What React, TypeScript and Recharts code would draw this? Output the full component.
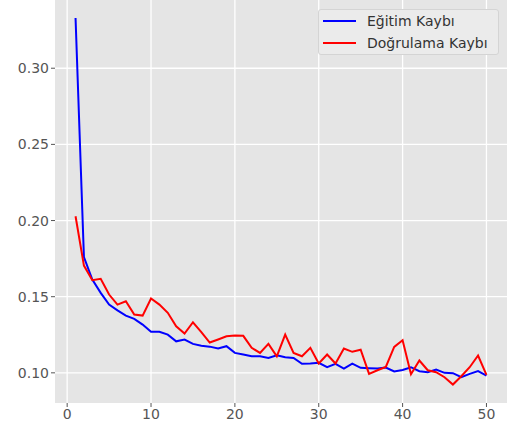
import React from "react";
import {
  LineChart, Line, XAxis, YAxis, CartesianGrid
} from "recharts";

// epochs 1..50
const epochs = Array.from({ length: 50 }, (_, i) => i + 1);

const trainLoss = [
  0.333, 0.176, 0.1612, 0.1525, 0.1448, 0.141, 0.1376, 0.1354, 0.1317, 0.1269,
  0.1269, 0.1251, 0.1207, 0.1218, 0.119, 0.1178, 0.1172, 0.116, 0.1175, 0.1131,
  0.112, 0.1109, 0.1109, 0.1098, 0.1116, 0.1102, 0.1098, 0.1059, 0.1061, 0.1066,
  0.1037, 0.1059, 0.1028, 0.1061, 0.1033, 0.103, 0.1028, 0.1035, 0.1009, 0.1019,
  0.1037, 0.1011, 0.1004, 0.1022, 0.1, 0.0998, 0.0971, 0.0993, 0.1011, 0.0982,
];

const valLoss = [
  0.2028, 0.1704, 0.1608, 0.1617, 0.1514, 0.1448, 0.147, 0.1383, 0.1376, 0.1488,
  0.1448, 0.1394, 0.1306, 0.1258, 0.1332, 0.1268, 0.1199, 0.1219, 0.124, 0.1245,
  0.1243, 0.1164, 0.1131, 0.119, 0.1109, 0.1251, 0.1131, 0.1109, 0.1164, 0.1061,
  0.112, 0.1061, 0.116, 0.1138, 0.1152, 0.0993, 0.1017, 0.1039, 0.117, 0.1214,
  0.0991, 0.1081, 0.1017, 0.1004, 0.0971, 0.0923, 0.0978, 0.1037, 0.1114, 0.0987,
];

const xTicks = [0, 10, 20, 30, 40, 50];
const yTicks = [0.1, 0.15, 0.2, 0.25, 0.3];

const seriesNames = ["Eğitim Kaybı", "Doğrulama Kaybı"];
const seriesColors = ["#0000ff", "#ff0000"];

const data = epochs.map((e, i) => ({
  epoch: e,
  train: trainLoss[i],
  val: valLoss[i],
}));

const font = "'DejaVu Sans', sans-serif";

// legend drawn as html on top of the plot, like matplotlib's upper right box
function LegendBox() {
  return (
    <div
      style={{
        position: "absolute",
        top: 9,
        left: 318,
        width: 169,
        background: "#ebebeb",
        border: "1px solid #d4d4d4",
        borderRadius: 3,
        padding: "0 6px 0 4px",
        fontFamily: font,
        fontSize: 14,
        color: "#333",
        lineHeight: "22px",
      }}
    >
      {seriesNames.map((n, i) => (
        <div key={n} style={{ display: "flex", alignItems: "center" }}>
          <span
            style={{
              display: "inline-block",
              width: 33,
              height: 2,
              background: seriesColors[i],
              marginRight: 11,
            }}
          />
          <span>{n}</span>
        </div>
      ))}
    </div>
  );
}

export default function App() {
  return (
    <div style={{ position: "relative", width: 512, height: 431, background: "#fff" }}>
      <style>{`body{margin:0}`}</style>
      <LineChart
        width={512}
        height={431}
        data={data}
        margin={{ top: 0, right: 5, bottom: 0, left: 0 }}
      >
        <CartesianGrid
          fill="#e5e5e5"
          stroke="#ffffff"
          strokeWidth={1.3}
          horizontalValues={yTicks}
          verticalValues={xTicks}
        />
        <XAxis
          dataKey="epoch"
          type="number"
          domain={[-1.45, 52.45]}
          ticks={xTicks}
          allowDataOverflow
          height={28}
          axisLine={false}
          tickLine={{ stroke: "#555" }}
          tickSize={4}
          tick={{ fill: "#555", fontSize: 14, fontFamily: font }}
        />
        <YAxis
          type="number"
          domain={[0.0802, 0.3448]}
          ticks={yTicks}
          allowDataOverflow
          width={55}
          axisLine={false}
          tickLine={{ stroke: "#555" }}
          tickSize={4}
          tick={{ fill: "#555", fontSize: 14, fontFamily: font }}
          tickFormatter={(v: number) => v.toFixed(2)}
        />
        <Line
          dataKey="train"
          name={seriesNames[0]}
          stroke={seriesColors[0]}
          strokeWidth={2}
          dot={false}
          isAnimationActive={false}
        />
        <Line
          dataKey="val"
          name={seriesNames[1]}
          stroke={seriesColors[1]}
          strokeWidth={2}
          dot={false}
          isAnimationActive={false}
        />
      </LineChart>
      <LegendBox />
    </div>
  );
}
